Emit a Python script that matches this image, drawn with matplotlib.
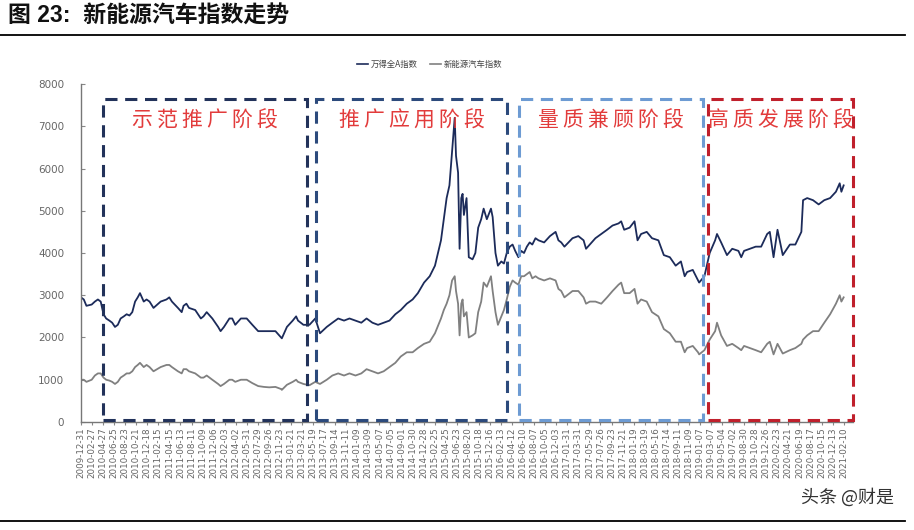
import pandas as pd
import matplotlib.pyplot as plt
import matplotlib.dates as mdates
from matplotlib.patches import Rectangle
from matplotlib.lines import Line2D

plt.rcParams['font.family'] = ['Noto Sans CJK SC', 'DejaVu Sans']

dates = [
    "2009-12-31", "2010-01-15", "2010-01-29", "2010-02-26", "2010-03-15", "2010-03-31",
    "2010-04-15", "2010-04-30", "2010-05-14", "2010-05-31", "2010-06-15", "2010-06-30",
    "2010-07-15", "2010-07-30", "2010-08-16", "2010-08-31", "2010-09-15", "2010-09-30",
    "2010-10-15", "2010-10-29", "2010-11-10", "2010-11-30", "2010-12-15", "2010-12-31",
    "2011-01-21", "2011-02-28", "2011-03-31", "2011-04-15", "2011-04-29", "2011-05-31",
    "2011-06-20", "2011-06-30", "2011-07-15", "2011-07-29", "2011-08-31", "2011-09-30",
    "2011-10-14", "2011-10-31", "2011-11-30", "2011-12-31", "2012-01-13", "2012-01-31",
    "2012-02-29", "2012-03-15", "2012-03-31", "2012-04-30", "2012-05-31", "2012-06-30",
    "2012-07-31", "2012-08-31", "2012-09-28", "2012-10-31", "2012-11-30", "2012-12-04",
    "2012-12-31", "2013-01-31", "2013-02-18", "2013-02-28", "2013-03-29", "2013-04-30",
    "2013-05-31", "2013-06-25", "2013-07-31", "2013-08-30", "2013-09-30", "2013-10-31",
    "2013-11-29", "2013-12-31", "2014-01-31", "2014-02-28", "2014-03-31", "2014-04-30",
    "2014-05-30", "2014-06-30", "2014-07-31", "2014-08-29", "2014-09-30", "2014-10-31",
    "2014-11-28", "2014-12-31", "2015-01-30", "2015-02-27", "2015-03-31", "2015-04-15",
    "2015-04-30", "2015-05-15", "2015-05-29", "2015-06-12", "2015-06-19", "2015-06-30",
    "2015-07-08", "2015-07-17", "2015-07-24", "2015-07-31", "2015-08-14", "2015-08-26",
    "2015-09-15", "2015-09-30", "2015-10-15", "2015-10-31", "2015-11-13", "2015-11-30",
    "2015-12-22", "2015-12-31", "2016-01-15", "2016-01-28", "2016-02-15", "2016-02-29",
    "2016-03-15", "2016-03-31", "2016-04-15", "2016-04-29", "2016-05-16", "2016-05-31",
    "2016-06-15", "2016-06-30", "2016-07-15", "2016-07-29", "2016-08-15", "2016-08-31",
    "2016-09-30", "2016-10-31", "2016-11-30", "2016-12-15", "2016-12-30", "2017-01-16",
    "2017-02-28", "2017-03-31", "2017-04-28", "2017-05-11", "2017-05-31", "2017-06-30",
    "2017-07-31", "2017-08-31", "2017-09-29", "2017-10-31", "2017-11-14", "2017-11-30",
    "2017-12-29", "2018-01-24", "2018-02-09", "2018-02-28", "2018-03-30", "2018-04-27",
    "2018-05-31", "2018-06-29", "2018-07-31", "2018-08-31", "2018-09-28", "2018-10-18",
    "2018-10-31", "2018-11-30", "2018-12-28", "2019-01-03", "2019-01-31", "2019-02-28",
    "2019-03-29", "2019-04-08", "2019-04-30", "2019-05-31", "2019-06-28", "2019-07-31",
    "2019-08-15", "2019-08-30", "2019-09-30", "2019-10-31", "2019-11-29", "2019-12-31",
    "2020-01-14", "2020-02-03", "2020-02-24", "2020-03-23", "2020-04-30", "2020-05-29",
    "2020-06-30", "2020-07-09", "2020-07-31", "2020-08-31", "2020-09-30", "2020-10-30",
    "2020-11-30", "2020-12-31", "2021-01-20", "2021-01-29", "2021-02-10",
]

wind_all_a = [
    2950, 2900, 2750, 2780, 2850, 2900,
    2850, 2550, 2450, 2400, 2350, 2250,
    2300, 2450, 2500, 2550, 2520, 2600,
    2850, 2950, 3050, 2850, 2900, 2850,
    2700, 2850, 2900, 2950, 2850, 2700,
    2600, 2750, 2800, 2700, 2650, 2450,
    2500, 2600, 2450, 2250, 2150, 2250,
    2450, 2450, 2300, 2450, 2450, 2300,
    2150, 2150, 2150, 2150, 2000, 1980,
    2250, 2400, 2500, 2400, 2300, 2300,
    2450, 2100, 2250, 2350, 2450, 2400,
    2450, 2400, 2350, 2450, 2350, 2300,
    2350, 2400, 2550, 2650, 2800, 2900,
    3050, 3300, 3450, 3700, 4300, 4800,
    5300, 5600, 6400, 7200, 6300, 5900,
    4100, 5300, 5400, 4900, 5300, 3900,
    3850, 4000, 4600, 4800, 5050, 4800,
    5050, 4850, 4000, 3700, 3800, 3750,
    4000, 4150, 4200, 4050, 3900, 4050,
    4000, 4150, 4250, 4200, 4350, 4300,
    4250, 4400, 4500, 4300, 4250, 4150,
    4350, 4400, 4300, 4100, 4200, 4350,
    4450, 4550, 4650, 4700, 4750, 4550,
    4600, 4750, 4300, 4450, 4500, 4350,
    4300, 3950, 3900, 3700, 3800, 3450,
    3550, 3600, 3350, 3300, 3450, 4000,
    4300, 4450, 4250, 3950, 4100, 4050,
    3900, 4050, 4100, 4150, 4150, 4450,
    4500, 3900, 4550, 3950, 4200, 4200,
    4500, 5250, 5300, 5250, 5150, 5250,
    5300, 5450, 5650, 5450, 5600,
]

nev_index = [
    1000, 1000, 950, 1000, 1100, 1150,
    1150, 1050, 1000, 980, 950, 900,
    950, 1050, 1100, 1150, 1150, 1200,
    1300, 1350, 1400, 1300, 1350, 1300,
    1200, 1300, 1350, 1350, 1300, 1200,
    1150, 1250, 1250, 1200, 1150, 1050,
    1050, 1100, 1000, 900, 850, 900,
    1000, 1000, 950, 1000, 1000, 920,
    850, 830, 820, 830, 780, 760,
    880, 950, 1000, 950, 900, 870,
    950, 900, 1000, 1100, 1150, 1100,
    1150, 1100, 1150, 1250, 1200, 1150,
    1200, 1300, 1400, 1550, 1650, 1650,
    1750, 1850, 1900, 2100, 2450, 2650,
    2800, 3000, 3350, 3450, 3100, 2800,
    2050, 2800, 2900, 2500, 2600, 2000,
    2050, 2100, 2600, 2850, 3300, 3200,
    3450, 3100, 2600, 2300, 2500, 2650,
    2900, 3200, 3350, 3300, 3250, 3450,
    3450, 3500, 3550, 3400, 3450, 3400,
    3350, 3400, 3350, 3150, 3100, 2950,
    3100, 3100, 2950, 2800, 2850, 2850,
    2800, 2950, 3100, 3250, 3300, 3050,
    3050, 3150, 2800, 2900, 2850, 2600,
    2500, 2200, 2100, 1900, 1900, 1650,
    1750, 1800, 1650, 1600, 1700, 1950,
    2150, 2350, 2050, 1800, 1850, 1750,
    1700, 1800, 1750, 1700, 1650, 1850,
    1900, 1600, 1850, 1620, 1700, 1750,
    1850, 1950, 2050, 2150, 2150, 2350,
    2550, 2800, 3000, 2850, 2950,
]

series_names = ["万得全A指数", "新能源汽车指数"]
series_colors = ["#1c2b5a", "#808080"]

phase_names = ["示范推广阶段", "推广应用阶段", "量质兼顾阶段", "高质发展阶段"]
phase_start = ["2010-04-27", "2013-06-06", "2016-05-18", "2019-02-21"]
phase_end = ["2013-04-15", "2016-03-17", "2019-01-26", "2021-04-01"]
phase_colors = ["#22325a", "#2c4a7c", "#6d9bd3", "#c0202c"]

x = pd.to_datetime(dates)
tick_dates = pd.date_range("2009-12-31", "2021-02-10", periods=70)

fig = plt.figure(figsize=(9.14, 5.30), dpi=100)
ax = fig.add_axes([0.0886, 0.2038, 0.8447, 0.6377])

ax.plot(x, wind_all_a, color=series_colors[0], lw=1.3)
ax.plot(x, nev_index, color=series_colors[1], lw=1.3)

ax.set_ylim(0, 8000)
ax.set_yticks(range(0, 8001, 1000))
ax.set_xlim(pd.Timestamp("2009-12-31"), pd.Timestamp("2021-04-01"))
ax.set_xticks(tick_dates)
ax.set_xticklabels([d.strftime("%Y-%m-%d") for d in tick_dates], rotation=90,
                   fontsize=6.3, color="#666666", family="DejaVu Sans")
ax.tick_params(axis="y", direction="in", length=3, labelsize=7.5,
               labelcolor="#666666", color="#888888", pad=12)
ax.tick_params(axis="x", direction="out", length=2, color="#888888", pad=2)
for lab in ax.get_yticklabels():
    lab.set_family("DejaVu Sans")
for s in ["top", "right"]:
    ax.spines[s].set_visible(False)
for s in ["left", "bottom"]:
    ax.spines[s].set_color("#777777")
    ax.spines[s].set_linewidth(1.0)

# phase boxes
for name, s, e, c in zip(phase_names, phase_start, phase_end, phase_colors):
    x0 = mdates.date2num(pd.Timestamp(s))
    x1 = mdates.date2num(pd.Timestamp(e))
    rect = Rectangle((x0, 50), x1 - x0, 7600, fill=False, edgecolor=c,
                     lw=2.2, linestyle=(0, (4, 2.5)), clip_on=False, zorder=3)
    ax.add_patch(rect)
    ax.text((x0 + x1) / 2, 7130, "\u2009".join(name), ha="center", va="center",
            fontsize=15, color="#e23b3b", zorder=4)

handles = [Line2D([], [], color=c, lw=1.2) for c in series_colors]
fig.legend(handles, series_names, loc="center", bbox_to_anchor=(0.47, 0.879),
           ncol=2, frameon=False, fontsize=6, handlelength=1.3,
           handletextpad=0.3, columnspacing=1.5, labelcolor="#444444")

fig.text(0.009, 0.970, "图 23:  新能源汽车指数走势", ha="left", va="center",
         fontsize=16.5, fontweight="bold", color="#111111",
         family=["Liberation Sans", "Noto Sans CJK SC"])
fig.add_artist(Line2D([0.0, 0.99], [1 - 35 / 530, 1 - 35 / 530],
                      color="black", lw=1.3, transform=fig.transFigure))
fig.add_artist(Line2D([0.0, 0.99], [1 - 521 / 530, 1 - 521 / 530],
                      color="black", lw=1.3, transform=fig.transFigure))
fig.text(0.978, 0.062, "头条 @财是", ha="right", va="center", fontsize=13,
         color="#333333")

fig.savefig("out.png", dpi=100)
